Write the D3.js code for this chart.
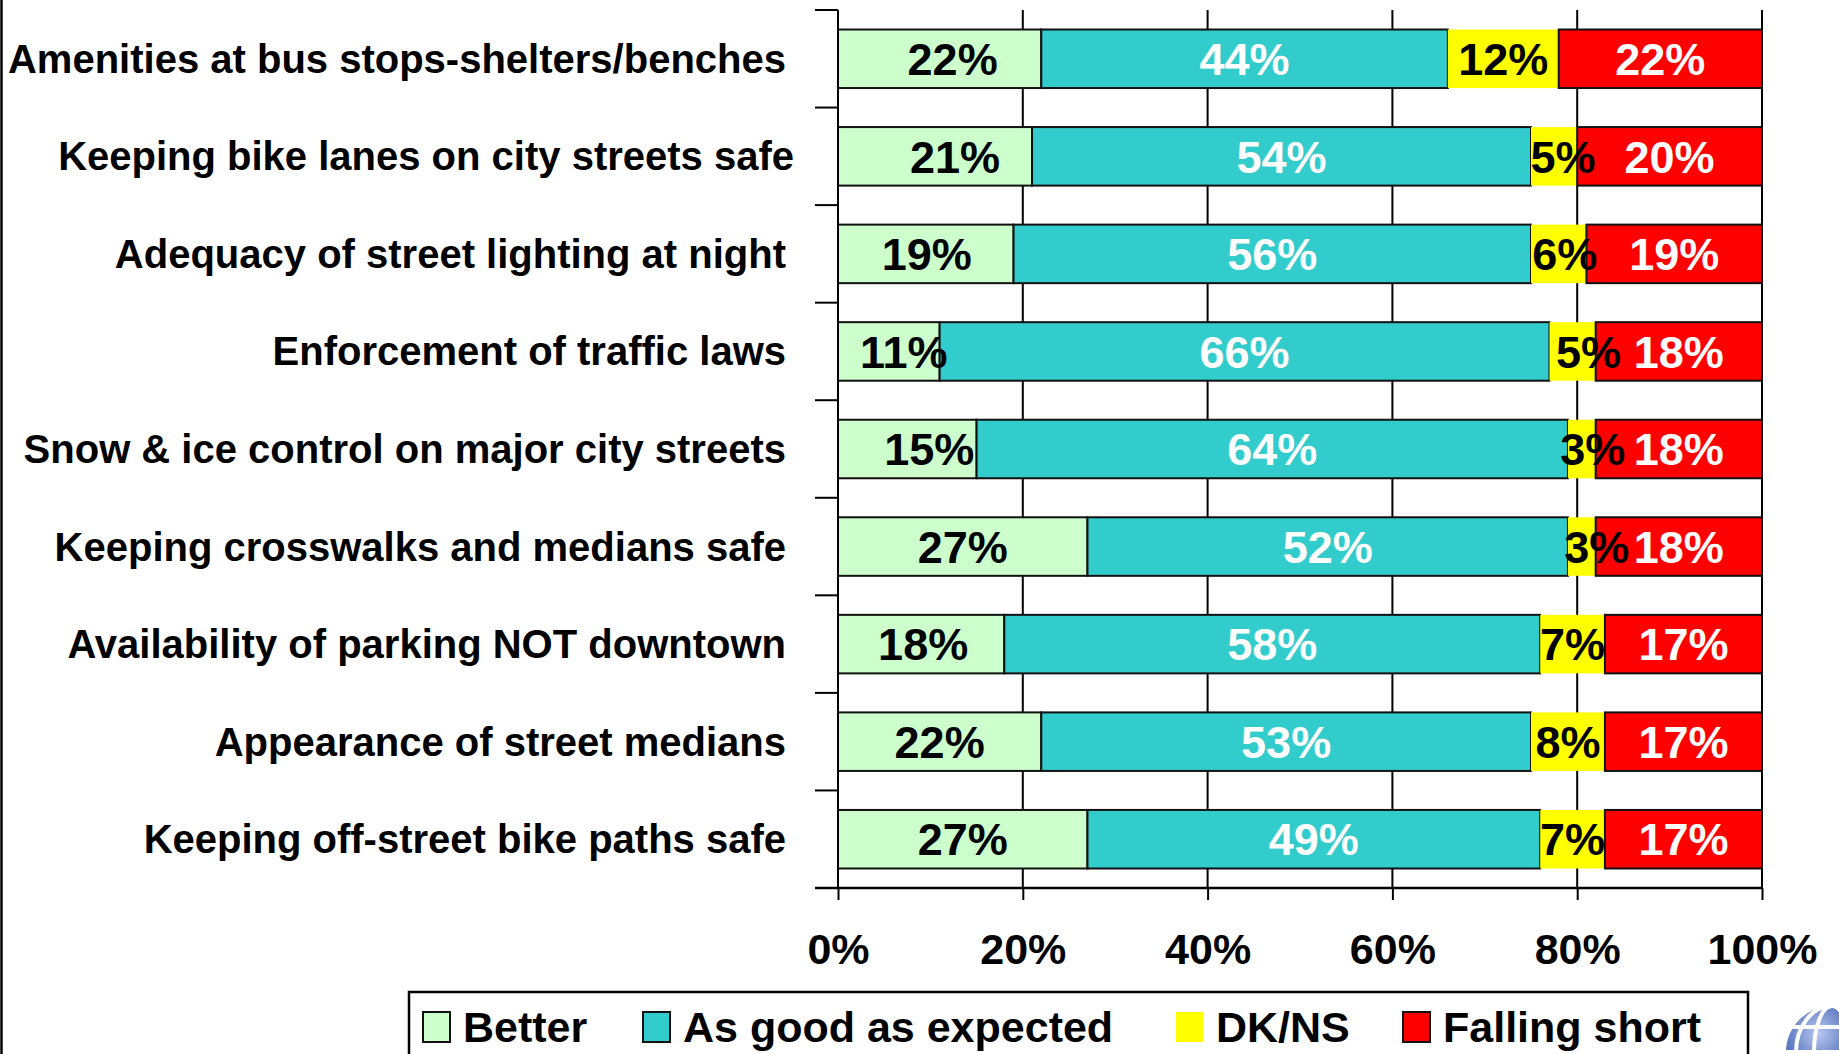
<!DOCTYPE html>
<html>
<head>
<meta charset="utf-8">
<script src="https://cdn.jsdelivr.net/npm/d3@7"></script>
<style>
  html, body { margin: 0; padding: 0; background: #fff; }
  svg { display: block; }
  text { font-family: "Liberation Sans", Arial, sans-serif; font-weight: bold; }
</style>
</head>
<body>
<div id="chart"></div>
<script>
// Data
let categories = [
  'Amenities at bus stops-shelters/benches',
  'Keeping bike lanes on city streets safe',
  'Adequacy of street lighting at night',
  'Enforcement of traffic laws',
  'Snow & ice control on major city streets',
  'Keeping crosswalks and medians safe',
  'Availability of parking NOT downtown',
  'Appearance of street medians',
  'Keeping off-street bike paths safe'
];
let better       = [22, 21, 19, 11, 15, 27, 18, 22, 27];
let asGood       = [44, 54, 56, 66, 64, 52, 58, 53, 49];
let dkns         = [12, 5, 6, 5, 3, 3, 7, 8, 7];
let fallingShort = [22, 20, 19, 18, 18, 18, 17, 17, 17];
let seriesNames  = ['Better', 'As good as expected', 'DK/NS', 'Falling short'];
let xTicks       = [0, 20, 40, 60, 80, 100];

// Styling per series
let fills      = ['#ccffcc', '#33cccc', '#ffff00', '#ff0000'];
let textFills  = ['#000', '#fff', '#000', '#fff'];
let hasStroke  = [true, true, false, true];
// small label nudges, like the hand-moved labels in the original
let labelShift = [
  [13, 20, 1, 15, 22, 0, 2, 0, 0],
  [0, 0, 0, 0, 0, 0, 0, 0, 0],
  [0, 9, 6, 16, 11, 15, 0, 0, 0],
  [0, 0, 0, 0, 0, 0, 0, 0, 0]
];
let catShift = [0, 8, 0, 0, 0, 0, 0, 0, 0];

let rows = categories.map((c, i) => ({
  cat: c, s0: better[i], s1: asGood[i], s2: dkns[i], s3: fallingShort[i]
}));
let keys = ['s0', 's1', 's2', 's3'];

const W = 1839, H = 1054;
const plot = {left: 838, right: 1762, top: 10, bottom: 888};

let svg = d3.select('#chart')
  .append('svg')
    .attr('width', W)
    .attr('height', H);

let xScale = d3.scaleLinear()
  .domain([0, 100])
  .range([plot.left, plot.right]);

let yScale = d3.scaleBand()
  .domain(categories)
  .range([plot.top, plot.bottom])
  .paddingInner(0.4)
  .paddingOuter(0.2);

let step = yScale.step();

// slide border on the left
svg.append('line')
  .attr('x1', 1.5).attr('x2', 1.5)
  .attr('y1', 0).attr('y2', H)
  .attr('stroke', '#000')
  .attr('stroke-width', 2.5);

// vertical gridlines
svg.append('g')
  .selectAll('line')
  .data(xTicks.slice(1))
  .enter()
  .append('line')
    .attr('x1', d => xScale(d)).attr('x2', d => xScale(d))
    .attr('y1', plot.top).attr('y2', plot.bottom)
    .attr('stroke', '#000')
    .attr('stroke-width', 2);

// stacked bars
let stacked = d3.stack().keys(keys)(rows);

let layers = svg.append('g')
  .selectAll('g')
  .data(stacked)
  .enter()
  .append('g')
    .attr('fill', (d, i) => fills[i]);

layers.selectAll('rect')
  .data((d, i) => d.map(p => ({p: p, si: i})))
  .enter()
  .append('rect')
    .attr('x', d => xScale(d.p[0]))
    .attr('y', d => yScale(d.p.data.cat))
    .attr('width', d => xScale(d.p[1]) - xScale(d.p[0]))
    .attr('height', yScale.bandwidth())
    .attr('stroke', d => hasStroke[d.si] ? '#111' : 'none')
    .attr('stroke-width', 2);

// y axis: line plus category boundary ticks pointing left
let yAxisG = svg.append('g');
yAxisG.append('line')
  .attr('x1', plot.left).attr('x2', plot.left)
  .attr('y1', plot.top).attr('y2', plot.bottom)
  .attr('stroke', '#000').attr('stroke-width', 2);
yAxisG.selectAll('.ytick')
  .data(d3.range(categories.length + 1))
  .enter()
  .append('line')
    .attr('class', 'ytick')
    .attr('x1', plot.left - 23).attr('x2', plot.left)
    .attr('y1', i => plot.top + i * step).attr('y2', i => plot.top + i * step)
    .attr('stroke', '#000').attr('stroke-width', 2);

// x axis
let xAxis = d3.axisBottom(xScale)
  .tickValues(xTicks)
  .tickSize(12)
  .tickPadding(40)
  .tickFormat(d => d + '%');

let xAxisG = svg.append('g')
  .attr('transform', `translate(0, ${plot.bottom})`)
  .call(xAxis);
xAxisG.select('.domain').remove();
xAxisG.selectAll('.tick line').attr('stroke', '#000').attr('stroke-width', 2);
xAxisG.selectAll('.tick text')
  .attr('fill', '#000')
  .style('font-size', '43px')
  .attr('dy', '0.55em');
xAxisG.append('line')
  .attr('x1', plot.left - 23).attr('x2', plot.right)
  .attr('y1', 0).attr('y2', 0)
  .attr('stroke', '#000').attr('stroke-width', 2.5);

// category labels
svg.append('g')
  .selectAll('text')
  .data(categories)
  .enter()
  .append('text')
    .attr('x', (d, i) => plot.left - 52 + catShift[i])
    .attr('y', d => yScale(d) + yScale.bandwidth() / 2)
    .attr('dy', '0.35em')
    .attr('text-anchor', 'end')
    .style('font-size', '40px')
    .attr('fill', '#000')
    .text(d => d);

// value labels
let labelData = [];
stacked.forEach((layer, si) => {
  layer.forEach((p, ri) => {
    labelData.push({si: si, ri: ri, x0: p[0], x1: p[1], v: p[1] - p[0], cat: p.data.cat});
  });
});

svg.append('g')
  .selectAll('text')
  .data(labelData)
  .enter()
  .append('text')
    .attr('x', d => xScale((d.x0 + d.x1) / 2) + labelShift[d.si][d.ri])
    .attr('y', d => yScale(d.cat) + yScale.bandwidth() / 2)
    .attr('dy', '0.36em')
    .attr('text-anchor', 'middle')
    .style('font-size', '45px')
    .attr('fill', d => textFills[d.si])
    .text(d => d.v + '%');

// legend
let legend = svg.append('g');
legend.append('rect')
  .attr('x', 409).attr('y', 992)
  .attr('width', 1339).attr('height', 120)
  .attr('fill', '#fff')
  .attr('stroke', '#000')
  .attr('stroke-width', 2.5);

let legendX = [423, 643, 1176, 1403];
let items = legend.selectAll('.item')
  .data(seriesNames)
  .enter()
  .append('g')
    .attr('class', 'item')
    .attr('transform', (d, i) => `translate(${legendX[i]}, 0)`);

items.append('rect')
  .attr('x', 0).attr('y', 1012)
  .attr('width', 27).attr('height', 30)
  .attr('fill', (d, i) => fills[i])
  .attr('stroke', (d, i) => hasStroke[i] ? '#111' : 'none')
  .attr('stroke-width', 2);

items.append('text')
  .attr('x', 40)
  .attr('y', 1042)
  .style('font-size', '43px')
  .attr('fill', '#000')
  .text(d => d);

// corner logo (partly off the page)
let logo = svg.append('g').attr('transform', 'translate(1832, 1052)');
let grad = svg.append('defs').append('radialGradient').attr('id', 'globe')
  .attr('cx', '35%').attr('cy', '30%');
grad.append('stop').attr('offset', '0%').attr('stop-color', '#b8c8f0');
grad.append('stop').attr('offset', '100%').attr('stop-color', '#3355aa');
logo.append('circle').attr('r', 46).attr('fill', 'url(#globe)');
[[0, 18], [0, 36]].forEach(e => {
  logo.append('ellipse')
    .attr('rx', e[1]).attr('ry', 46)
    .attr('fill', 'none').attr('stroke', '#fff').attr('stroke-width', 4);
});
[-25, 0, 25].forEach(yy => {
  logo.append('line')
    .attr('x1', -46).attr('x2', 46).attr('y1', yy).attr('y2', yy)
    .attr('stroke', '#fff').attr('stroke-width', 4);
});
</script>
</body>
</html>
